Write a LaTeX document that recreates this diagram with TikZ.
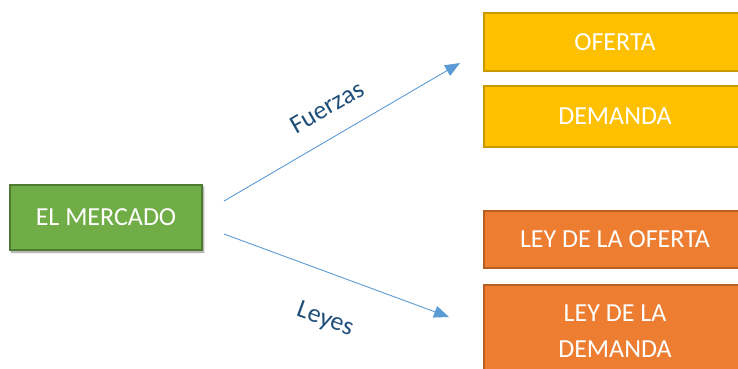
\documentclass[tikz,border=0pt]{standalone}
\usepackage{fontspec}
\setmainfont{Carlito}
\usetikzlibrary{arrows.meta,shadows.blur}
\definecolor{mgreen}{HTML}{70AD47}
\definecolor{mgreenb}{HTML}{4E7A31}
\definecolor{myellow}{HTML}{FFC000}
\definecolor{myellowb}{HTML}{C99A00}
\definecolor{morange}{HTML}{ED7D31}
\definecolor{morangeb}{HTML}{B85F22}
\definecolor{marrow}{HTML}{5B9BD5}
\definecolor{mlabel}{HTML}{1F4E79}
\tikzset{
  box/.style={rectangle, inner sep=0pt, text=white, align=center,
    font=\fontsize{26}{36}\selectfont, minimum width=262pt},
  ybox/.style={box, fill=myellow, draw=myellowb, line width=1.2pt},
  obox/.style={box, fill=morange, draw=morangeb, line width=1.2pt},
  gbox/.style={box, fill=mgreen, draw=mgreenb, line width=1.8pt,
    minimum width=192pt, minimum height=65pt,
    blur shadow={shadow xshift=1.5pt, shadow yshift=-2pt, shadow blur steps=6, shadow opacity=45}},
  conn/.style={draw=marrow, line width=0.9pt, -{Triangle[length=15pt,width=12pt]}},
  lbl/.style={text=mlabel, font=\fontsize{26}{30}\selectfont, inner sep=0pt}
}
\begin{document}
\begin{tikzpicture}[x=1pt,y=-1pt]
\useasboundingbox (0,0) rectangle (738,368);
\clip (0,0) rectangle (738,368);
\node[gbox] (m) at (106,217.5) {EL MERCADO};
\node[ybox, minimum height=58pt] (of) at (615,42) {OFERTA};
\node[ybox, minimum height=61pt] (de) at (615,116.5) {DEMANDA};
\node[obox, minimum height=57pt] (lo) at (615,239.5) {LEY DE LA OFERTA};
\node[obox, minimum height=92pt] (ld) at (615,331) {LEY DE LA\\DEMANDA};
\coordinate (s1) at (224,201);
\coordinate (e1) at (460,63);
\coordinate (s2) at (224,234);
\coordinate (e2) at (449,317);
\draw[conn] (s1) -- (e1);
\draw[conn] (s2) -- (e2);
\node[lbl, rotate=30] (f) at (327,107) {Fuerzas};
\node[lbl, rotate=-20] (l) at (325,320) {Leyes};
\end{tikzpicture}
\end{document}
